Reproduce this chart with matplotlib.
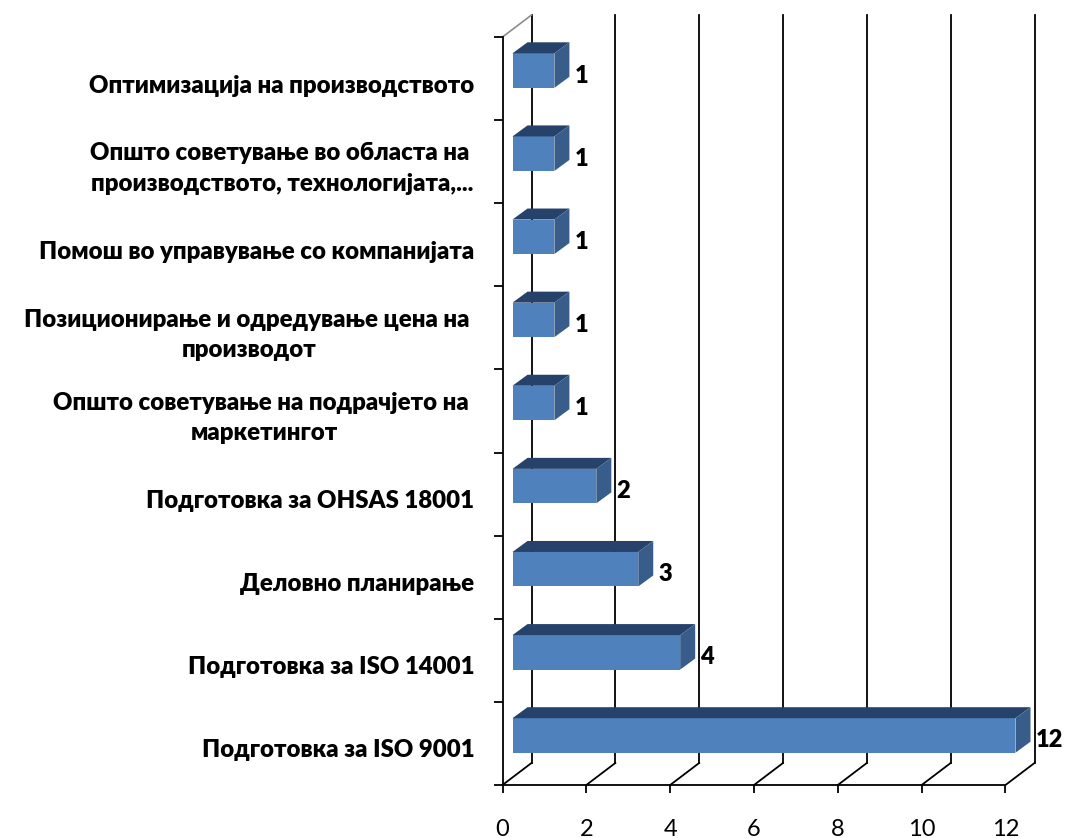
import matplotlib
matplotlib.use('Agg')
import matplotlib.pyplot as plt
from matplotlib.patches import Polygon

plt.rcParams['font.family'] = ['Lato', 'Open Sans', 'DejaVu Sans']

# bottom to top, same as the chart
categories = [
    'Подготовка за ISO 9001',
    'Подготовка за ISO 14001',
    'Деловно планирање',
    'Подготовка за OHSAS 18001',
    'Општо советување на подрачјето на \nмаркетингот',
    'Позиционирање и одредување цена на \nпроизводот',
    'Помош во управување со компанијата',
    'Општо советување во областа на \nпроизводството, технологијата,...',
    'Оптимизација на производството',
]
values = [12, 4, 3, 2, 1, 1, 1, 1, 1]
xticks = [0, 2, 4, 6, 8, 10, 12]

W, H = 1065, 838
x0_px, x12_px, y0_px, ytop_px = 502.5, 1005.5, 785, 37

fig = plt.figure(figsize=(W / 100, H / 100), dpi=100)
ax = fig.add_axes([x0_px / W, 1 - y0_px / H, (x12_px - x0_px) / W, (y0_px - ytop_px) / H])
ax.set_xlim(0, 12)
ax.set_ylim(0, len(categories))

# pixel sizes in data units
ux = 12 / (x12_px - x0_px)
uy = len(categories) / (y0_px - ytop_px)

# 3d look: the walls sit back by this much
back_x, back_y = 29 * ux, 22 * uy
depth_x, depth_y = 15 * ux, 11 * uy
bar_left = 10 * ux
bar_h = 34.5 * uy
bar_shift = 8 * uy

black = '#000000'
for t in xticks:
    ax.plot([t, t + back_x], [0, back_y], color=black, lw=1.3, clip_on=False, zorder=1)
    ax.plot([t + back_x, t + back_x], [back_y, len(categories) + back_y],
            color=black, lw=1.3, clip_on=False, zorder=1)
ax.plot([0, back_x], [len(categories), len(categories) + back_y],
        color='#8c8c8c', lw=1.2, clip_on=False, zorder=1)

ypos = [i + 0.5 + bar_shift for i in range(len(values))]
ax.barh(ypos, values, height=bar_h, left=bar_left, color='#4F81BD', zorder=3, clip_on=False)

for y, v in zip(ypos, values):
    x1 = bar_left + v
    yt = y + bar_h / 2
    yb = y - bar_h / 2
    ax.add_patch(Polygon([(bar_left, yt), (x1, yt), (x1 + depth_x, yt + depth_y),
                          (bar_left + depth_x, yt + depth_y)],
                         facecolor='#26426A', edgecolor='none', zorder=3, clip_on=False))
    ax.add_patch(Polygon([(x1, yt), (x1 + depth_x, yt + depth_y),
                          (x1 + depth_x, yb + depth_y), (x1, yb)],
                         facecolor='#385D8A', edgecolor='none', zorder=3, clip_on=False))
    ax.text(x1 + 20 * ux, y - 5 * uy, str(v), fontsize=17, fontweight='heavy',
            color=black, ha='left', va='center', zorder=4, clip_on=False)

for i, lab in enumerate(categories):
    ax.text(-28 * ux, i + 0.5 - 7 * uy, lab, fontsize=17.3, fontweight='heavy', color=black,
            ha='right', va='center', multialignment='center', linespacing=1.48)

for s in ['top', 'right']:
    ax.spines[s].set_visible(False)
for s in ['left', 'bottom']:
    ax.spines[s].set_linewidth(1.3)

ax.set_xticks(xticks)
ax.set_yticks(range(len(categories) + 1))
ax.set_yticklabels([])
ax.tick_params(axis='x', length=6, width=1.3, pad=18.5, labelsize=17)
ax.tick_params(axis='y', length=6.5, width=1.3)

fig.savefig('out.png', dpi=100, facecolor='white')
